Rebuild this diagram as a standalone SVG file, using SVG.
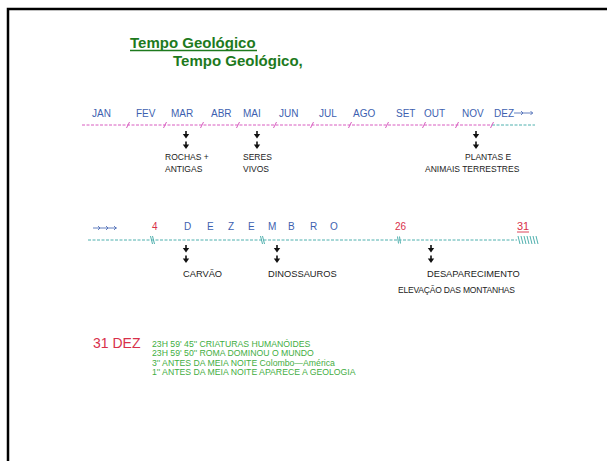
<svg xmlns="http://www.w3.org/2000/svg" width="607" height="461" viewBox="0 0 607 461">
<defs>
<style>
.f{font-family:"Liberation Sans",Arial,sans-serif}
.title{font-family:"Liberation Sans",Arial,sans-serif;font-weight:bold;font-size:15px;fill:#1d7a1d}
.mon{font-family:"Liberation Sans",Arial,sans-serif;font-size:10px;fill:#3d5fb0}
.lbl{font-family:"Liberation Sans",Arial,sans-serif;font-size:8.5px;fill:#222}
.lbl2{font-family:"Liberation Sans",Arial,sans-serif;font-size:9.3px;fill:#222}
.red{font-family:"Liberation Sans",Arial,sans-serif;fill:#d8304a}
.grn{font-family:"Liberation Sans",Arial,sans-serif;font-size:8.7px;fill:#3fae3f}
.pink{stroke:#d85cc0;stroke-width:1;stroke-dasharray:3 1.5;fill:none}
.teal{stroke:#4fb0ae;stroke-width:1;stroke-dasharray:3 1.5;fill:none}
.tick{stroke:#d85cc0;stroke-width:1}
.tt{stroke:#4fb0ae;stroke-width:1}
.sm{stroke:#3d5fb0;stroke-width:0.8;fill:none}
</style>
<g id="dbl">
<line x1="0" y1="0" x2="0" y2="3.5" stroke="#111" stroke-width="1.6"/>
<polygon points="-3.2,3 3.2,3 0,7.5" fill="#111"/>
<line x1="0" y1="10.5" x2="0" y2="14" stroke="#111" stroke-width="1.6"/>
<polygon points="-3.2,13.5 3.2,13.5 0,18" fill="#111"/>
</g>
</defs>
<rect width="607" height="461" fill="#fff"/>
<path d="M8 461 V9 H607" fill="none" stroke="#000" stroke-width="2.5"/>

<g id="title">
<text class="title" x="130" y="48">Tempo Geológico</text>
<line x1="130" y1="50.5" x2="257" y2="50.5" stroke="#1d7a1d" stroke-width="1.3"/>
<text class="title" x="173" y="66">Tempo Geológico,</text>
</g>

<g id="connectors">
<line class="pink" x1="82" y1="125" x2="492" y2="125"/>
<line class="teal" x1="492" y1="125" x2="535" y2="125"/>
<g class="tick">
<line x1="126.5" y1="128" x2="129.5" y2="122"/>
<line x1="163.5" y1="128" x2="166.5" y2="122"/>
<line x1="200.5" y1="128" x2="203.5" y2="122"/>
<line x1="236.5" y1="128" x2="239.5" y2="122"/>
<line x1="273.5" y1="128" x2="276.5" y2="122"/>
<line x1="310.5" y1="128" x2="313.5" y2="122"/>
<line x1="348.5" y1="128" x2="351.5" y2="122"/>
<line x1="385.5" y1="128" x2="388.5" y2="122"/>
<line x1="422.5" y1="128" x2="425.5" y2="122"/>
<line x1="455.5" y1="128" x2="458.5" y2="122"/>
<line x1="490.5" y1="128" x2="493.5" y2="122"/>
</g>
<g class="sm">
<line x1="514" y1="113" x2="533" y2="113"/>
<path d="M521 111 L523 113 L521 115 M530.5 111 L532.5 113 L530.5 115"/>
<line x1="93" y1="228" x2="117" y2="228"/>
<path d="M98 226 L100 228 L98 230 M106 226 L108 228 L106 230 M114 226 L116 228 L114 230"/>
</g>
<line class="teal" x1="88" y1="240" x2="517" y2="240"/>
<g class="tt">
<line x1="150.5" y1="236" x2="152.5" y2="244"/>
<line x1="152.5" y1="236" x2="154.5" y2="244"/>
<line x1="260.5" y1="236" x2="262.5" y2="244"/>
<line x1="262.5" y1="236" x2="264.5" y2="244"/>
<line x1="397.5" y1="236.5" x2="398.5" y2="243.5"/>
<line x1="399.5" y1="236.5" x2="400.5" y2="243.5"/>
<line x1="518" y1="236" x2="520" y2="244"/>
<line x1="521" y1="236" x2="523" y2="244"/>
<line x1="524" y1="236" x2="526" y2="244"/>
<line x1="527" y1="236" x2="529" y2="244"/>
<line x1="530" y1="236" x2="532" y2="244"/>
<line x1="533" y1="236" x2="535" y2="244"/>
<line x1="536" y1="236" x2="538" y2="244"/>
</g>
<use href="#dbl" x="186" y="131"/>
<use href="#dbl" x="257" y="131"/>
<use href="#dbl" x="476" y="131"/>
<use href="#dbl" x="186" y="245"/>
<use href="#dbl" x="277" y="245"/>
<use href="#dbl" x="431" y="245"/>
</g>

<g id="months">
<text class="mon" x="92" y="117">JAN</text>
<text class="mon" x="136" y="117">FEV</text>
<text class="mon" x="171" y="117">MAR</text>
<text class="mon" x="211" y="117">ABR</text>
<text class="mon" x="243" y="117">MAI</text>
<text class="mon" x="279" y="117">JUN</text>
<text class="mon" x="319" y="117">JUL</text>
<text class="mon" x="353" y="117">AGO</text>
<text class="mon" x="396" y="117">SET</text>
<text class="mon" x="424" y="117">OUT</text>
<text class="mon" x="462" y="117">NOV</text>
<text class="mon" x="494" y="117">DEZ</text>
</g>

<g id="rochas"><text class="lbl" x="165" y="160">ROCHAS +</text><text class="lbl" x="165" y="172">ANTIGAS</text></g>
<g id="seres"><text class="lbl" x="243" y="160">SERES</text><text class="lbl" x="243" y="172">VIVOS</text></g>
<g id="plantas"><text class="lbl" x="465" y="160">PLANTAS E</text><text class="lbl" x="425" y="172">ANIMAIS TERRESTRES</text></g>

<g id="dezembro">
<text class="red" x="152" y="230" font-size="10">4</text>
<text class="mon" font-size="10.5" y="230"><tspan x="184">D</tspan><tspan x="207">E</tspan><tspan x="228">Z</tspan><tspan x="248">E</tspan><tspan x="268">M</tspan><tspan x="288">B</tspan><tspan x="310">R</tspan><tspan x="330">O</tspan></text>
<text class="red" x="395" y="230" font-size="10">26</text>
<text class="red" x="517" y="230" font-size="11">31</text>
<line x1="517" y1="232" x2="529" y2="232" stroke="#d8304a" stroke-width="0.9"/>
</g>

<g id="carvao"><text class="lbl2" x="183" y="277">CARVÃO</text></g>
<g id="dinossauros"><text class="lbl2" x="268" y="277">DINOSSAUROS</text></g>
<g id="desaparecimento"><text class="lbl2" x="427" y="277">DESAPARECIMENTO</text><text class="lbl" x="398" y="293" textLength="117">ELEVAÇÃO DAS MONTANHAS</text></g>

<g id="dez31">
<text class="red" x="93" y="348" font-size="14">31 DEZ</text>
<text class="grn" x="152" y="347">23H 59' 45'' CRIATURAS HUMANÓIDES</text>
<text class="grn" x="152" y="356">23H 59' 50'' ROMA DOMINOU O MUNDO</text>
<text class="grn" x="152" y="365.5">3'' ANTES DA MEIA NOITE Colombo—América</text>
<text class="grn" x="152" y="375">1'' ANTES DA MEIA NOITE APARECE A GEOLOGIA</text>
</g>
</svg>
